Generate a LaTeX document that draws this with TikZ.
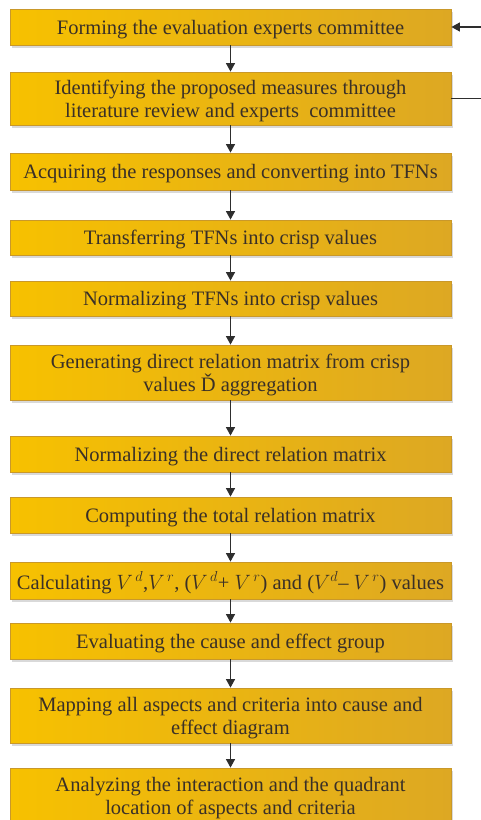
\documentclass[tikz,border=0pt]{standalone}
\usepackage{fontspec}
\setmainfont{Liberation Serif}
\usetikzlibrary{shadows,arrows.meta}
\definecolor{boxL}{HTML}{F7C100}
\definecolor{boxR}{HTML}{DDA823}
\definecolor{boxB}{HTML}{C9982A}
\definecolor{txt}{HTML}{3A3027}
\definecolor{arr}{HTML}{2E2E2E}
\begin{document}
\begin{tikzpicture}[x=1pt,y=-1pt,
  stepbox/.style={draw=boxB, line width=0.8pt, left color=boxL, right color=boxR,
    minimum width=441pt, inner sep=0pt, align=center, text=txt, text depth=0pt,
    font=\fontsize{20.5}{23}\selectfont,
    drop shadow={shadow xshift=2pt, shadow yshift=-2.5pt, opacity=0.25, fill=black!60}},
  flow/.style={draw=arr, line width=1.3pt, -{Triangle[length=8.5pt,width=9pt]}},
  fb/.style={draw=arr, line width=1.3pt}]
\useasboundingbox (0,0) rectangle (480,820);
\node[stepbox, minimum height=36pt] (b1) at (230.5,27) {Forming the evaluation experts committee};
\node[stepbox, minimum height=53pt] (b2) at (230.5,98.5) {Identifying the proposed measures through\\literature review and experts\ \ committee};
\node[stepbox, minimum height=37pt] (b3) at (230.5,171.5) {Acquiring the responses and converting into TFNs};
\node[stepbox, minimum height=35pt] (b4) at (230.5,237.5) {Transferring TFNs into crisp values};
\node[stepbox, minimum height=35pt] (b5) at (230.5,298.5) {Normalizing TFNs into crisp values};
\node[stepbox, minimum height=55pt] (b6) at (230.5,372.5) {Generating direct relation matrix from crisp\\values Ď aggregation};
\node[stepbox, minimum height=36pt] (b7) at (230.5,454) {Normalizing the direct relation matrix};
\node[stepbox, minimum height=36pt] (b8) at (230.5,515) {Computing the total relation matrix};
\node[stepbox, minimum height=37pt] (b9) at (230.5,580.5) {Calculating $V^{\,d}$,$V^{\,r}$, ($V^{\,d}$+ $V^{\,r}$) and ($V^{d}$– $V^{\,r}$) values};
\node[stepbox, minimum height=36pt] (b10) at (230.5,641) {Evaluating the cause and effect group};
\node[stepbox, minimum height=55pt] (b11) at (230.5,715.5) {Mapping all aspects and criteria into cause and\\effect diagram};
\node[stepbox, minimum height=55pt] (b12) at (230.5,795.5) {Analyzing the interaction and the quadrant\\location of aspects and criteria};
\foreach \a/\b in {b1/b2,b2/b3,b3/b4,b4/b5,b5/b6,b6/b7,b7/b8,b8/b9,b9/b10,b10/b11,b11/b12}
  \draw[flow] (\a.south) -- (\b.north);
\coordinate (fbin) at (482,27);
\coordinate (fbout) at (482,98.5);
\draw[flow] (fbin) -- (b1.east);
\draw[fb] (b2.east) -- (fbout);
\end{tikzpicture}
\end{document}
